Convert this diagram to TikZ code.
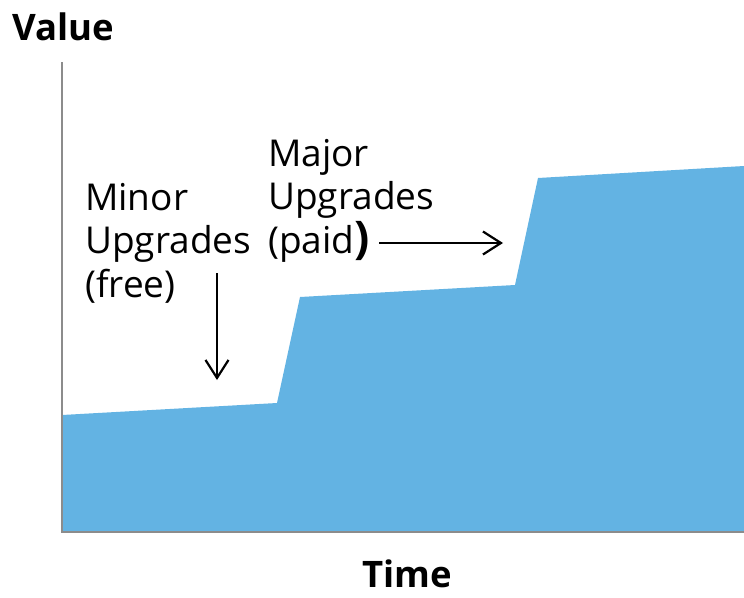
\documentclass[tikz,border=0pt]{standalone}
\usepackage{fontspec}
\setmainfont{Open Sans}
\usetikzlibrary{arrows.meta,positioning}
\definecolor{valueblue}{RGB}{99,179,227}
\definecolor{axisgray}{RGB}{140,140,140}

\begin{document}
\begin{tikzpicture}[x=1pt, y=-1pt, every node/.style={inner sep=0pt},
  axislabel/.style={font=\fontsize{36.5}{42}\selectfont\bfseries},
  steplabel/.style={font=\fontsize{37}{43.5}\selectfont, align=left},
  pointer/.style={line width=2.2pt, -{Straight Barb[length=18pt,width=23pt]}}]
  \useasboundingbox (0,0) rectangle (744,597);
  % axes
  \coordinate (O) at (62,532);
  \coordinate (Ytop) at (62,62);
  \coordinate (Xend) at (744,532);
  % value over time
  \fill[valueblue] (O) -- (62,415) -- (277,403) -- (300,297) -- (515,285)
    -- (538,178) -- (744,166) -- (Xend) -- cycle;
  \draw[axisgray, line width=2pt] (Ytop) -- (O) -- (Xend);
  \node[axislabel, anchor=base west] (value) at (12,40) {Value};
  \node[axislabel, anchor=base] (time) at (407,587) {Time};
  % labels
  \node[steplabel, anchor=north west] (minor) at (85,183) {Minor\\Upgrades\\(free)};
  \node[steplabel, anchor=north west] (major) at (268,139) {Major\\Upgrades\\(paid{\fontsize{45}{43.5}\selectfont\bfseries )}};
  \coordinate (minortail) at (217,273);
  \coordinate (minorhead) at (217,380);
  \coordinate (majortail) at (379,243);
  \coordinate (majorhead) at (503,243);
  \draw[pointer] (minortail) -- (minorhead);
  \draw[pointer] (majortail) -- (majorhead);
\end{tikzpicture}
\end{document}
